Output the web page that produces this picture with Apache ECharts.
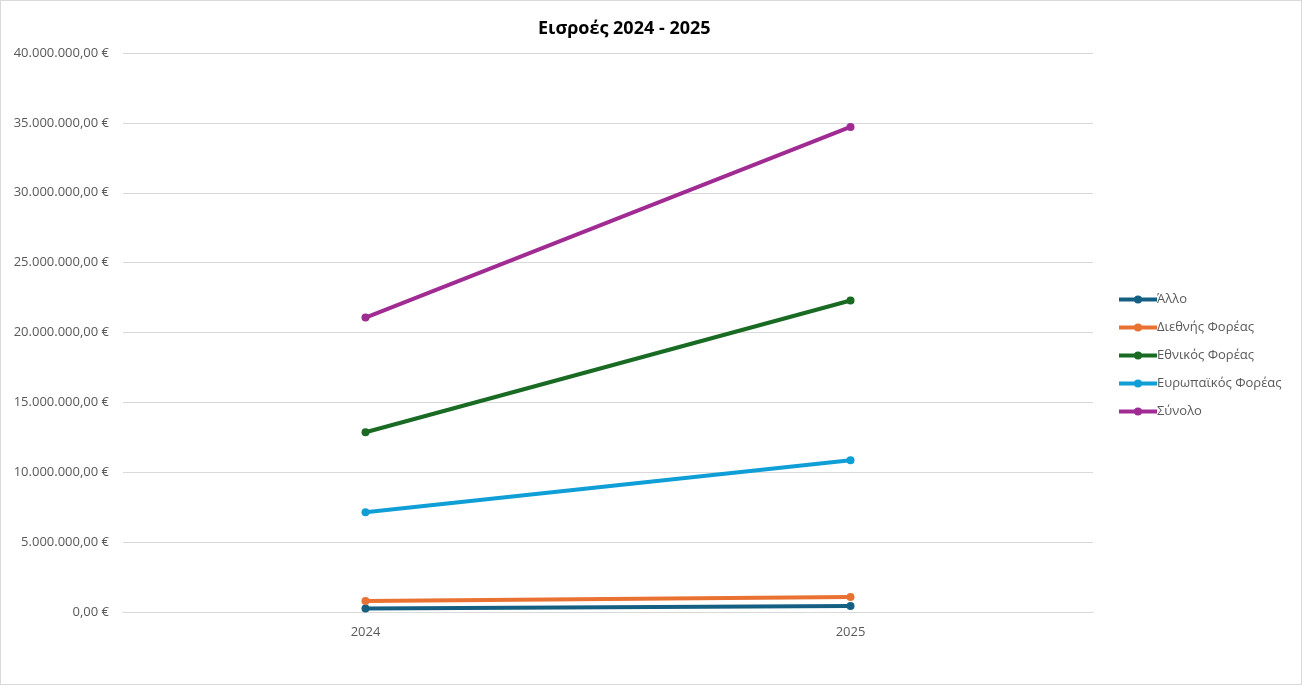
<!DOCTYPE html>
<html>
<head>
<meta charset="utf-8">
<script src="https://cdn.jsdelivr.net/npm/echarts@6/dist/echarts.min.js"></script>
<style>
html,body{margin:0;padding:0;background:#fff;}
#main{width:1300px;height:683px;border:1px solid #d9d9d9;}
</style>
</head>
<body>
<div id="main"></div>
<script>
/*κατηγορίες και σειρές*/
var years = ["2024", "2025"];
var seriesNames = ["Άλλο", "Διεθνής Φορέας", "Εθνικός Φορέας", "Ευρωπαϊκός Φορέας", "Σύνολο"];
var allo = [250000, 430000];
var diethnis = [790000, 1070000];
var ethnikos = [12860000, 22290000];
var evropaikos = [7140000, 10860000];
var synolo = [21070000, 34710000];
var colors = ["#156082", "#E97132", "#196B24", "#0F9ED5", "#A02B93"];

/*μορφή ποσού σε ευρώ*/
function fmtEuro(v){
	var s = Math.round(v).toString().replace(/\B(?=(\d{3})+(?!\d))/g, ".");
	return s + ",00 €";
}

var dataList = [allo, diethnis, ethnikos, evropaikos, synolo];
var _series = [];
for (var i = 0; i < seriesNames.length; i++) {
	_series.push({
		name: seriesNames[i],
		type: 'line',
		data: dataList[i],
		symbol: 'circle',
		symbolSize: 8,
		lineStyle: {width: 4, color: colors[i]},
		itemStyle: {color: colors[i]}
	});
}

var chart = echarts.init(document.getElementById('main'));
var option = {
	color: colors,
	animation: false,
	textStyle: {fontFamily: 'Open Sans'},
	title: {
		text: 'Εισροές 2024 - 2025',
		left: 532,
		top: 14,
		textStyle: {fontSize: 18, fontWeight: 'bold', color: '#000', fontFamily: 'Open Sans'}
	},
	legend: {
		orient: 'vertical',
		left: 1111,
		top: 287,
		itemWidth: 38,
		itemHeight: 10,
		itemGap: 15,
		lineStyle: {width: 4},
		textStyle: {fontSize: 13, color: '#595959', padding: [0, 0, 0, -5]},
		data: seriesNames
	},
	grid: {left: 122, right: 208, top: 52, bottom: 72, containLabel: false},
	xAxis: {
		type: 'category',
		data: years,
		boundaryGap: true,
		axisLine: {lineStyle: {color: '#d9d9d9'}},
		axisTick: {show: false},
		axisLabel: {color: '#595959', fontSize: 13, margin: 14}
	},
	yAxis: {
		type: 'value',
		min: 0,
		max: 40000000,
		interval: 5000000,
		axisLine: {show: false},
		axisTick: {show: false},
		splitLine: {lineStyle: {color: '#d9d9d9'}},
		axisLabel: {color: '#595959', fontSize: 13, margin: 14, formatter: fmtEuro}
	},
	series: _series
};
chart.setOption(option);
</script>
</body>
</html>
